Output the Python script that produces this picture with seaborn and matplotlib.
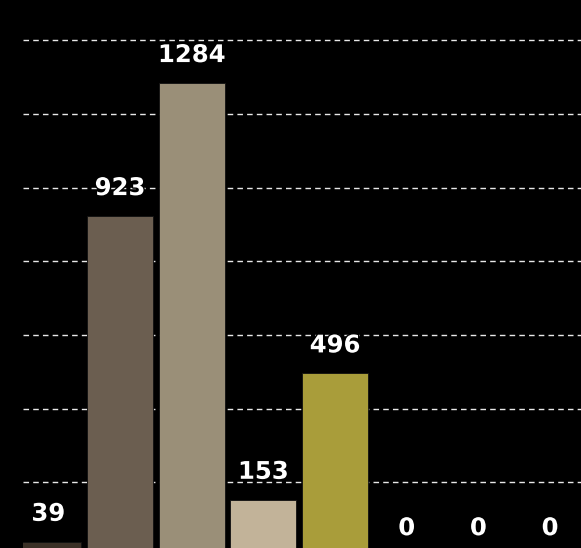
import matplotlib
matplotlib.use("Agg")
import matplotlib.pyplot as plt
import matplotlib.patheffects as pe
import seaborn as sns
import pandas as pd

categories = ["C1", "C2", "C3", "C4", "C5", "C6", "C7", "C8"]
values = [39, 923, 1284, 153, 496, 0, 0, 0]
colors = ["#3b3026", "#6b5e50", "#9a8f78", "#c2b399", "#a99d3a", "#7a6e5c", "#8a7f6a", "#b0a488"]
grid_values = [200, 400, 600, 800, 1000, 1200, 1400]

df = pd.DataFrame({"cat": categories, "val": values})

sns.set_theme(style="dark")
plt.rcParams["font.family"] = ["DejaVu Sans"]

fig = plt.figure(figsize=(5.81, 5.48), dpi=100)
fig.patch.set_facecolor("black")
ax = fig.add_axes([23 / 581, 0, 1 - 23 / 581, 1])
ax.set_facecolor("black")

sns.barplot(data=df, x="cat", y="val", hue="cat", palette=colors, dodge=False,
            width=0.92, legend=False, ax=ax, zorder=2, saturation=1,
            edgecolor="#111111", linewidth=0.6)

ax.set_xlim(-0.353, 7.433)
ax.set_ylim(21.7, 1509)
ax.set_yticks(grid_values)
ax.grid(axis="y", color="#e8e8e8", linestyle=(0, (4, 3)), linewidth=1.0, zorder=0)
ax.grid(axis="x", visible=False)
ax.set_axisbelow(True)
ax.set_xlabel("")
ax.set_ylabel("")
ax.set_xticklabels([])
ax.set_yticklabels([])
ax.tick_params(length=0)
for s in ax.spines.values():
    s.set_visible(False)

for i, v in enumerate(values):
    ax.annotate(str(v), xy=(i, v), xytext=(0, 15), textcoords="offset points",
                ha="center", va="baseline", color="white", fontsize=17.5,
                fontweight="bold", zorder=5, annotation_clip=False,
                path_effects=[pe.withStroke(linewidth=2, foreground="black")])

fig.savefig("out.png", dpi=100, facecolor="black")
